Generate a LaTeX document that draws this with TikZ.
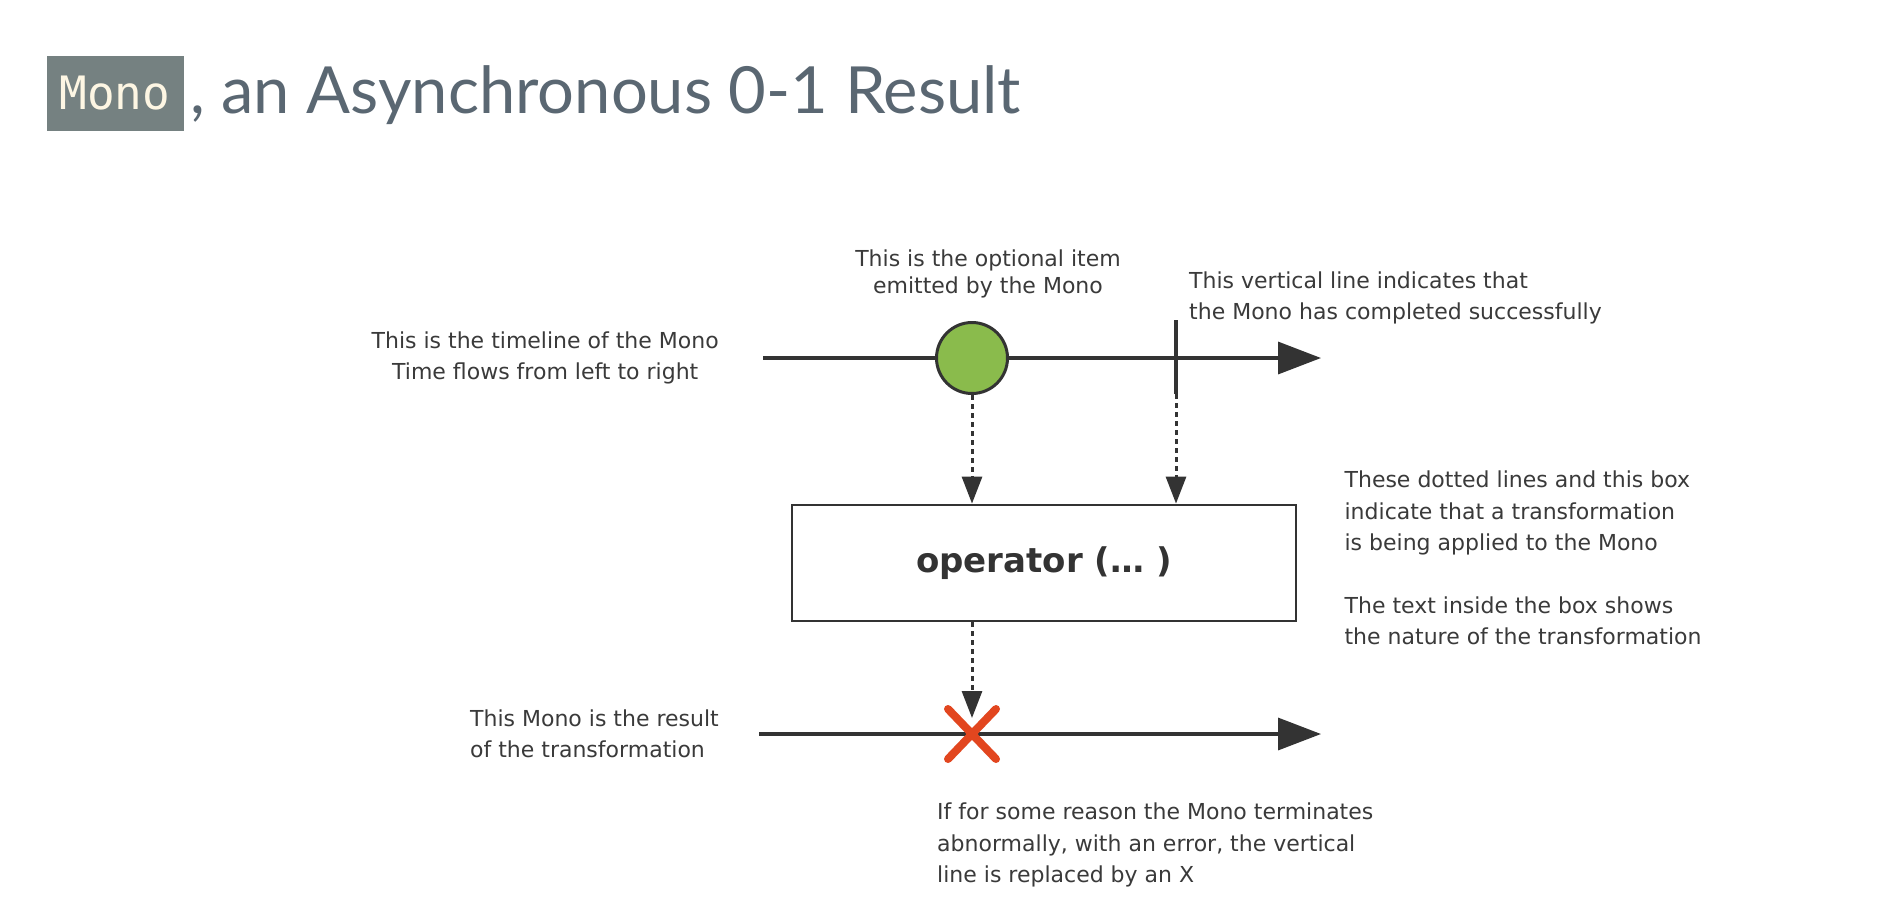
\documentclass[tikz,border=0pt]{standalone}
\usepackage{fontspec}
\setmainfont{DejaVu Sans}
\newfontfamily\titlefont{Lato}
\newfontfamily\codefont{DejaVu Sans Mono}
\usetikzlibrary{positioning,calc,arrows.meta}
\definecolor{lineColor}{RGB}{51,51,51}
\definecolor{textColor}{RGB}{58,58,58}
\definecolor{titleColor}{RGB}{90,103,114}
\definecolor{codeBox}{RGB}{117,129,129}
\definecolor{codeText}{RGB}{253,246,227}
\definecolor{itemColor}{RGB}{138,187,76}
\definecolor{errorColor}{RGB}{226,70,31}

\begin{document}
\begin{tikzpicture}[x=1pt,y=-1pt,textColor]
  	\tikzstyle{note} = [inner sep=0pt,font=\fontsize{22}{31.4}\selectfont,text=textColor]
  	\tikzstyle{timeline} = [draw=lineColor,line width=3.4pt,-{Triangle[length=43pt,width=32pt]}]
  	\tikzstyle{item} = [circle,draw=lineColor,fill=itemColor,line width=3pt,minimum size=71pt,inner sep=0pt]
  	\tikzstyle{complete} = [draw=lineColor,line width=4.6pt]
  	\tikzstyle{flow} = [draw=lineColor,line width=3pt,dash pattern=on 5pt off 4pt,-{Triangle[length=27pt,width=20pt]}]
  	\tikzstyle{opbox} = [rectangle,draw=lineColor,line width=2.8pt,minimum width=504pt,minimum height=116pt,font=\fontsize{34}{40}\selectfont\bfseries,text=lineColor]
  	\tikzstyle{errline} = [draw=errorColor,line width=8pt,line cap=round]
  	\tikzstyle{monobox} = [fill=codeBox,text=codeText,minimum width=137pt,minimum height=75pt,inner sep=0pt,font=\codefont\fontsize{46}{50}\selectfont]
  	\tikzstyle{titletext} = [inner sep=0pt,text=titleColor,font=\titlefont\fontsize{65}{74}\selectfont]

    \fill[white] (0,0) rectangle (1882,914);
    \useasboundingbox (0,0) rectangle (1882,914);

    % title
    \node[monobox] (mono) at (115,93) {Mono};
    \node[titletext, anchor=base west] (title) at (190,113) {, an Asynchronous 0-1 Result};

    % source timeline
    \coordinate (src0) at (763,358);
    \coordinate (src1) at (1321,358);
    \draw[timeline] (src0) -- (src1);
    \node[item] (item) at (972,358) {};
    \coordinate (doneTop) at (1176,320);
    \coordinate (doneBot) at (1176,394);
    \draw[complete] (doneTop) -- (doneBot);

    \node[note, align=center, left=44pt of src0] (timeNote) {This is the timeline of the Mono\\Time flows from left to right};
    \node[note, align=center, font=\fontsize{22}{27.6}\selectfont] (itemNote) at (988,274) {This is the optional item\\emitted by the Mono};
    \node[note, align=left, anchor=west] (doneNote) at (1189,298) {This vertical line indicates that\\the Mono has completed successfully};

    % operator
    \node[opbox] (op) at (1044,563) {operator (… )};
    \draw[flow] (item.south) -- (item.south |- op.north);
    \draw[flow] (doneBot) -- (doneBot |- op.north);
    \node[note, align=left, right=47pt of op, yshift=5pt] (opNote) {These dotted lines and this box\\indicate that a transformation\\is being applied to the Mono\\[31.4pt]The text inside the box shows\\the nature of the transformation};

    % result timeline
    \coordinate (res0) at (759,734);
    \coordinate (res1) at (1321,734);
    \coordinate (err) at (972,734);
    \coordinate (errTip) at (972,718);
    \draw[timeline] (res0) -- (res1);
    \draw[flow] (item |- op.south) -- (errTip);
    \draw[errline] ($(err)+(-24,-25)$) -- ($(err)+(24,25)$);
    \draw[errline] ($(err)+(-24,25)$) -- ($(err)+(24,-25)$);

    \node[note, align=left, left=40pt of res0] (resultNote) {This Mono is the result\\of the transformation};
    \node[note, align=left, anchor=west] (errNote) at (937,845) {If for some reason the Mono terminates\\abnormally, with an error, the vertical\\line is replaced by an X};

  \end{tikzpicture}
\end{document}
